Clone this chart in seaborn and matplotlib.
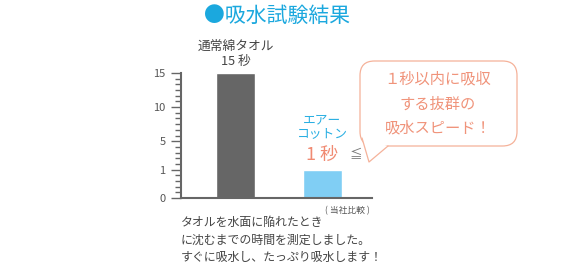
import numpy as np
import matplotlib
matplotlib.use("Agg")
import matplotlib.pyplot as plt
import seaborn as sns
from matplotlib.patches import FancyBboxPatch, Polygon
from matplotlib.lines import Line2D

# Data
categories = ["通常綿タオル", "エアーコットン"]
seconds = [15, 1]
value_labels = ["15 秒", "1 秒"]
major_ticks = [0, 1, 5, 10, 15]
# tick positions are not linear in the reference; each major sits on a step of an even minor grid
tick_steps = [0, 5, 10, 16, 22]
n_steps = 22

W, H = 580, 274


def px(x, y):
    """pixel position (from top-left) -> figure fraction"""
    return x / W, 1 - y / H


def fwd(v):
    return np.interp(v, major_ticks, tick_steps)


def inv(s):
    return np.interp(s, tick_steps, major_ticks)


sns.set_theme(style="white")
plt.rcParams["font.family"] = ["Noto Sans CJK JP", "DejaVu Sans"]

fig = plt.figure(figsize=(W / 100, H / 100), dpi=100)

# title
fig.text(*px(277, 16), "●吸水試験結果", ha="center", va="center",
         fontsize=15, color="#1BA8DE")

# speech bubble
x0, y0 = px(360, 146)
x1, y1 = px(517, 61)
bubble = FancyBboxPatch((x0, y0), x1 - x0, y1 - y0,
                        boxstyle="round,pad=0,rounding_size=0.025",
                        transform=fig.transFigure, facecolor="white",
                        edgecolor="#F5B29A", linewidth=0.9, mutation_aspect=W / H,
                        zorder=1)
fig.patches.append(bubble)
tail = [px(362, 138), px(369, 162), px(388, 146)]
fig.patches.append(Polygon(tail, closed=True, transform=fig.transFigure,
                           facecolor="white", edgecolor="none", zorder=1.5))
fig.lines.append(Line2D([p[0] for p in tail], [p[1] for p in tail],
                        transform=fig.transFigure, color="#F5B29A", linewidth=0.9))
for text, y in [("１秒以内に吸収", 79), ("する抜群の", 104), ("吸水スピード！", 128)]:
    fig.text(*px(438, y), text, ha="center", va="center", fontsize=11, color="#F0937A")

# notes
fig.text(*px(347, 211), "( 当社比較 )", ha="center", va="center",
         fontsize=6.3, color="#555555")
for text, y in [("タオルを水面に陥れたとき", 222),
                ("に沈むまでの時間を測定しました。", 240),
                ("すぐに吸水し、たっぷり吸水します！", 257)]:
    fig.text(*px(181, y), text, ha="left", va="center", fontsize=8.6, color="#444444")

# bars
ax = fig.add_axes([181 / W, 1 - 198 / H, 191 / W, 125 / H])
sns.barplot(x=categories, y=seconds, hue=categories, legend=False,
            palette=["#666666", "#80CEF4"], width=0.44, saturation=1, ax=ax)
ax.set_yscale("function", functions=(fwd, inv))
ax.set_ylim(0, 15)
ax.set_xlim(-0.626, 1.569)
ax.set_xlabel("")
ax.set_ylabel("")

# labels above the bars
ax.annotate(categories[0], (0, seconds[0]), xytext=(0, 19), textcoords="offset points",
            ha="center", va="center", fontsize=9.2, color="#444444", annotation_clip=False)
ax.annotate(value_labels[0], (0, seconds[0]), xytext=(0, 8), textcoords="offset points",
            ha="center", va="center", fontsize=9.2, color="#444444", annotation_clip=False)
ax.annotate("エアー\nコットン", (1, seconds[1]), xytext=(0, 31), textcoords="offset points",
            ha="center", va="center", fontsize=9.2, color="#2AAFE2", linespacing=1.1,
            annotation_clip=False)
ax.annotate(value_labels[1], (1, seconds[1]), xytext=(0, 10.5), textcoords="offset points",
            ha="center", va="center", fontsize=13, color="#F08A72", annotation_clip=False)
ax.annotate("≦", (1, seconds[1]), xytext=(24, 10.5), textcoords="offset points",
            ha="center", va="center", fontsize=9, color="#777777", annotation_clip=False)

for s in ["top", "right"]:
    ax.spines[s].set_visible(False)
for s in ["left", "bottom"]:
    ax.spines[s].set_color("#666666")
    ax.spines[s].set_linewidth(1.5)

# every step of the grid is a tick; only the five values get a label and a long tick
steps = np.arange(0, n_steps + 1)
labels = [str(major_ticks[tick_steps.index(s)]) if s in tick_steps else "" for s in steps]
ax.set_yticks(inv(steps))
ax.set_yticklabels(labels)
ax.tick_params(axis="y", which="major", length=7.2, width=1.0, color="#666666",
               pad=4.0, labelsize=8, labelcolor="#555555", left=True)
ax.set_xticks([])
for s, tick in zip(steps, ax.yaxis.get_major_ticks(len(steps))):
    if s not in tick_steps:
        tick.tick1line.set_markersize(4.3)

fig.savefig("out.png", dpi=100, facecolor="white")
